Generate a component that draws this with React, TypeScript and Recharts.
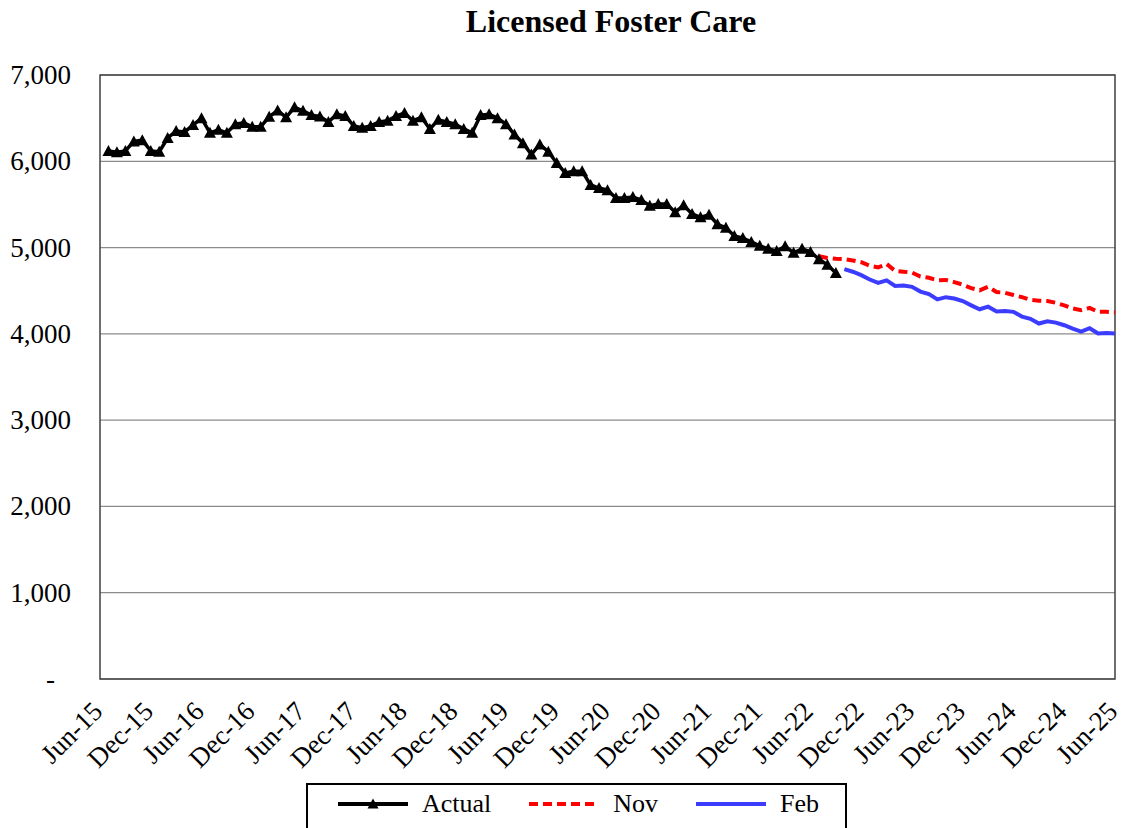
import React from 'react';
import { LineChart, Line, XAxis, YAxis, CartesianGrid, ReferenceArea } from 'recharts';

// month index 0 = Jun-15, 120 = Jun-25
const TICK_LABELS = [
  'Jun-15', 'Dec-15', 'Jun-16', 'Dec-16', 'Jun-17', 'Dec-17', 'Jun-18', 'Dec-18', 'Jun-19', 'Dec-19', 'Jun-20',
  'Dec-20', 'Jun-21', 'Dec-21', 'Jun-22', 'Dec-22', 'Jun-23', 'Dec-23', 'Jun-24', 'Dec-24', 'Jun-25',
];
const Y_TICKS = [0, 1000, 2000, 3000, 4000, 5000, 6000, 7000];

// Jul-15 .. Sep-22
const ACTUAL = [
  6120, 6105, 6120, 6230, 6245, 6120,
  6110, 6270, 6350, 6340, 6420, 6500, 6330, 6365, 6330, 6430, 6445, 6400,
  6400, 6515, 6590, 6510, 6625, 6585, 6535, 6520, 6455, 6545, 6525, 6410,
  6390, 6410, 6455, 6470, 6525, 6560, 6470, 6510, 6375, 6480, 6455, 6430,
  6375, 6330, 6535, 6545, 6500, 6430, 6310, 6210, 6080, 6195, 6110, 5980,
  5865, 5885, 5885, 5725, 5690, 5665, 5575, 5575, 5585, 5550, 5485, 5505,
  5505, 5410, 5490, 5390, 5350, 5380, 5270, 5230, 5135, 5110, 5065, 5020,
  4985, 4960, 5015, 4940, 4985, 4950, 4865, 4800, 4705,
];
const ACTUAL_START = 1;

// Jul-22 .. Jun-25
const NOV = [
  4900, 4880, 4870, 4865, 4850, 4830,
  4790, 4770, 4810, 4730, 4720, 4710, 4665, 4650, 4620, 4625, 4600, 4570,
  4530, 4505, 4545, 4485, 4475, 4450, 4425, 4395, 4385, 4380, 4360, 4330,
  4295, 4275, 4300, 4255, 4255, 4250,
];
const NOV_START = 85;

// Oct-22 .. Jun-25
const FEB = [
  4750, 4720, 4680,
  4630, 4590, 4620, 4555, 4560, 4545, 4490, 4460, 4400, 4425, 4410, 4380,
  4330, 4285, 4315, 4260, 4265, 4255, 4200, 4175, 4120, 4145, 4130, 4100,
  4060, 4025, 4065, 4005, 4010, 4005,
];
const FEB_START = 88;

const MONTHS = 120;

const pick = (arr: number[], start: number, i: number) =>
  i >= start && i - start < arr.length ? arr[i - start] : undefined;

const data = Array.from({ length: MONTHS + 1 }, (_, i) => ({
  idx: i,
  actual: pick(ACTUAL, ACTUAL_START, i),
  nov: pick(NOV, NOV_START, i),
  feb: pick(FEB, FEB_START, i),
}));

const FONT = '"Liberation Serif", "Times New Roman", Times, serif';
const RED = '#ff0000';
const BLUE = '#3c3cff';

const fmtY = (v: number) => v.toLocaleString('en-US');

const YTick = (props: any) => {
  const { x, y, payload } = props;
  const v = payload.value as number;
  return (
    <text
      x={v === 0 ? x - 37 : x - 21}
      y={y}
      textAnchor="end"
      dominantBaseline="central"
      fontSize={27}
      style={{ fontFamily: FONT }}
      fill="#000"
    >
      {v === 0 ? '-' : fmtY(v)}
    </text>
  );
};

const XTick = (props: any) => {
  const { x, y, payload } = props;
  const label = TICK_LABELS[Math.round(payload.value / 6)];
  return (
    <text
      x={0}
      y={0}
      transform={`translate(${x + 4},${y + 26}) rotate(-45)`}
      textAnchor="end"
      fontSize={27}
      style={{ fontFamily: FONT }}
      fill="#000"
    >
      {label}
    </text>
  );
};

const Triangle = (props: any) => {
  const { cx, cy, index } = props;
  if (cx == null || cy == null) return <g key={index} />;
  return <polygon key={index} points={`${cx - 6},${cy + 5} ${cx + 6},${cy + 5} ${cx},${cy - 6}`} fill="#000" />;
};

const LegendItem: React.FC<{ label: string; color: string; dash?: string; marker?: boolean; gap: number }> = ({
  label,
  color,
  dash,
  marker,
  gap,
}) => (
  <div style={{ display: 'flex', alignItems: 'center', marginRight: gap }}>
    <svg width={70} height={20} style={{ marginRight: 14 }}>
      <line x1={0} y1={10} x2={70} y2={10} stroke={color} strokeWidth={4} strokeDasharray={dash} />
      {marker && <polygon points="29.5,14.5 40.5,14.5 35,4.5" fill="#000" />}
    </svg>
    <span>{label}</span>
  </div>
);

export default function App() {
  return (
    <div style={{ position: 'absolute', left: 0, top: 0, width: 1122, height: 828, overflow: 'hidden', background: '#fff' }}>
      <div
        style={{
          position: 'absolute',
          left: 0,
          top: 0,
          width: 1222,
          textAlign: 'center',
          fontFamily: FONT,
          fontWeight: 'bold',
          fontSize: 32,
          lineHeight: '42px',
        }}
      >
        Licensed Foster Care
      </div>
      <LineChart width={1122} height={828} data={data} margin={{ top: 75, right: 7, left: 0, bottom: 0 }}>
        <CartesianGrid horizontal vertical={false} stroke="#8c8c8c" strokeWidth={1.2} />
        <XAxis
          dataKey="idx"
          type="number"
          domain={[0, MONTHS]}
          ticks={TICK_LABELS.map((_, i) => i * 6)}
          tick={<XTick />}
          tickLine={false}
          axisLine={false}
          height={149}
          interval={0}
          allowDataOverflow
        />
        <YAxis
          domain={[0, 7000]}
          ticks={Y_TICKS}
          tick={<YTick />}
          tickLine={false}
          axisLine={false}
          width={100}
          interval={0}
        />
        <ReferenceArea x1={0} x2={MONTHS} y1={0} y2={7000} fill="none" stroke="#404040" strokeWidth={1.5} ifOverflow="visible" />
        <Line
          dataKey="nov"
          stroke={RED}
          strokeWidth={4}
          strokeDasharray="9 5"
          dot={false}
          isAnimationActive={false}
          connectNulls={false}
        />
        <Line dataKey="feb" stroke={BLUE} strokeWidth={4} dot={false} isAnimationActive={false} connectNulls={false} />
        <Line
          dataKey="actual"
          stroke="#000"
          strokeWidth={3.5}
          dot={<Triangle />}
          isAnimationActive={false}
          connectNulls={false}
        />
      </LineChart>
      <div
        style={{
          position: 'absolute',
          left: 306,
          top: 783,
          width: 541,
          height: 60,
          boxSizing: 'border-box',
          border: '2px solid #000',
          display: 'flex',
          alignItems: 'flex-start',
          paddingLeft: 30,
          paddingTop: 4,
          fontFamily: FONT,
          fontSize: 26,
          lineHeight: '30px',
        }}
      >
        <LegendItem label="Actual" color="#000" marker gap={38} />
        <LegendItem label="Nov" color={RED} dash="9 5" gap={38} />
        <LegendItem label="Feb" color={BLUE} gap={0} />
      </div>
    </div>
  );
}
